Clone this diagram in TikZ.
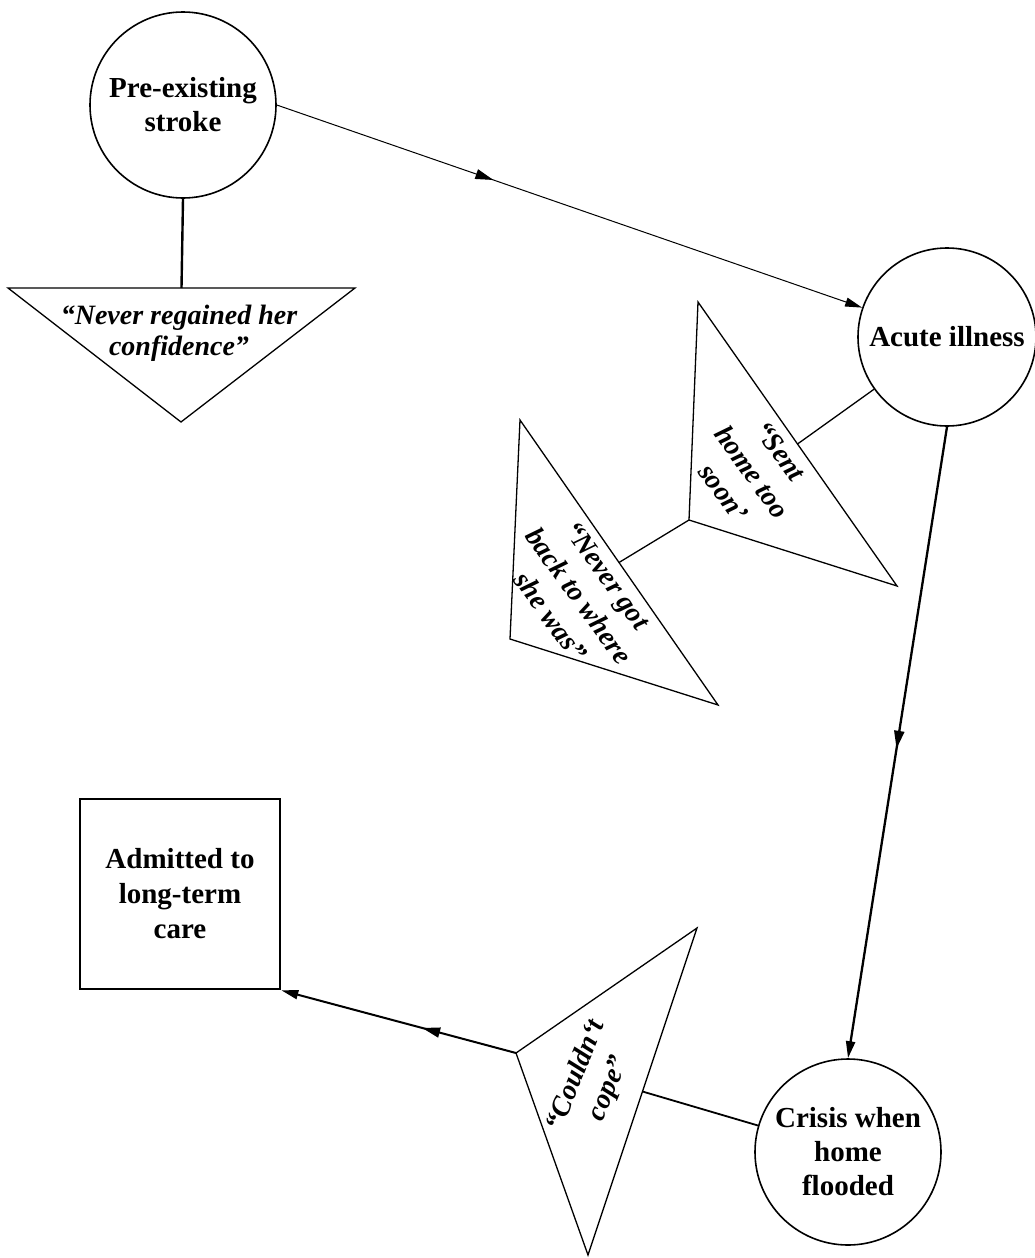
\documentclass[tikz,border=0pt]{standalone}
\usepackage{fontspec}
\setmainfont{Liberation Serif}
\usetikzlibrary{shapes.geometric, arrows.meta, decorations.markings}

\begin{document}
\begin{tikzpicture}
    [
		x=1pt, y=-1pt,
		event/.style={
			draw, circle, align=center, minimum size=186pt, inner sep=0pt,
			line width=1.6pt, font=\fontsize{29}{34}\selectfont\bfseries
		},
		outcome/.style={
			draw, rectangle, align=center, minimum width=200pt,
			minimum height=190pt, line width=2.6pt,
			font=\fontsize{29}{35}\selectfont\bfseries
		},
		saying/.style={
			align=center, inner sep=0pt,
			font=\fontsize{28}{31}\selectfont\bfseries\itshape
		},
		turned/.style={
			saying, font=\fontsize{28}{35}\selectfont\bfseries\itshape
		},
		tri/.style={draw, line width=1.3pt, line join=miter},
		arrowed/.style={-{Triangle[length=17pt, width=9pt]}},
		midarrow/.style={
			postaction={decorate},
			decoration={markings,
				mark=at position #1 with {\arrow{Triangle[length=18pt, width=10pt]}}}
		}
	]
\useasboundingbox (0,0) rectangle (1035,1258);

% Nodes
\node (stroke) [event] at (183,105) {Pre-existing\\stroke};
\node (acute) [event, minimum size=178pt] at (947,337) {Acute illness};
\node (crisis) [event] at (848,1152) {Crisis when\\home\\flooded};
\node (care) [outcome] at (180,894) {Admitted to\\long-term\\care};

% Quote triangles
\draw [tri] (8,288) -- (355,288) -- (181,422) -- cycle;
\coordinate (confBase) at (181.5,288);
\node (conf) [saying] at (179,333) {“Never regained her\\confidence”};

\draw [tri] (698,302) -- (689,520) coordinate (sentTip) -- (897,586) -- cycle;
\coordinate (sentBase) at (797.5,444);
\node (sent) [turned, rotate=-54] at (752,472) {“Sent\\home too\\soon’};

\draw [tri] (520,420) -- (510,639) -- (718,705) -- cycle;
\coordinate (neverBase) at (619,562.5);
\node (never) [turned, rotate=-54] at (579,596) {“Never got\\back to where\\she was”};

\draw [tri] (697,928) -- (516,1053) coordinate (coulTip) -- (588,1255) -- cycle;
\coordinate (coulBase) at (642.5,1091.5);
\node (coul) [turned, rotate=68] at (593,1082) {“Couldn‘t\\cope”};

% Links
\draw [line width=2.4pt] (stroke.south) -- (confBase);
\draw [line width=1.3pt] (acute) -- (sentBase);
\draw [line width=1.3pt] (sentTip) -- (neverBase);
\draw [line width=1.8pt] (crisis) -- (coulBase);

% Transitions
\draw [arrowed, midarrow=0.37, line width=1pt] (stroke.east) -- (acute);
\draw [arrowed, midarrow=0.51, line width=2.3pt] (acute.south) -- (crisis.north);
\draw [arrowed, midarrow=0.4, line width=2pt] (coulTip) -- (care.south east);

\end{tikzpicture}
\end{document}
